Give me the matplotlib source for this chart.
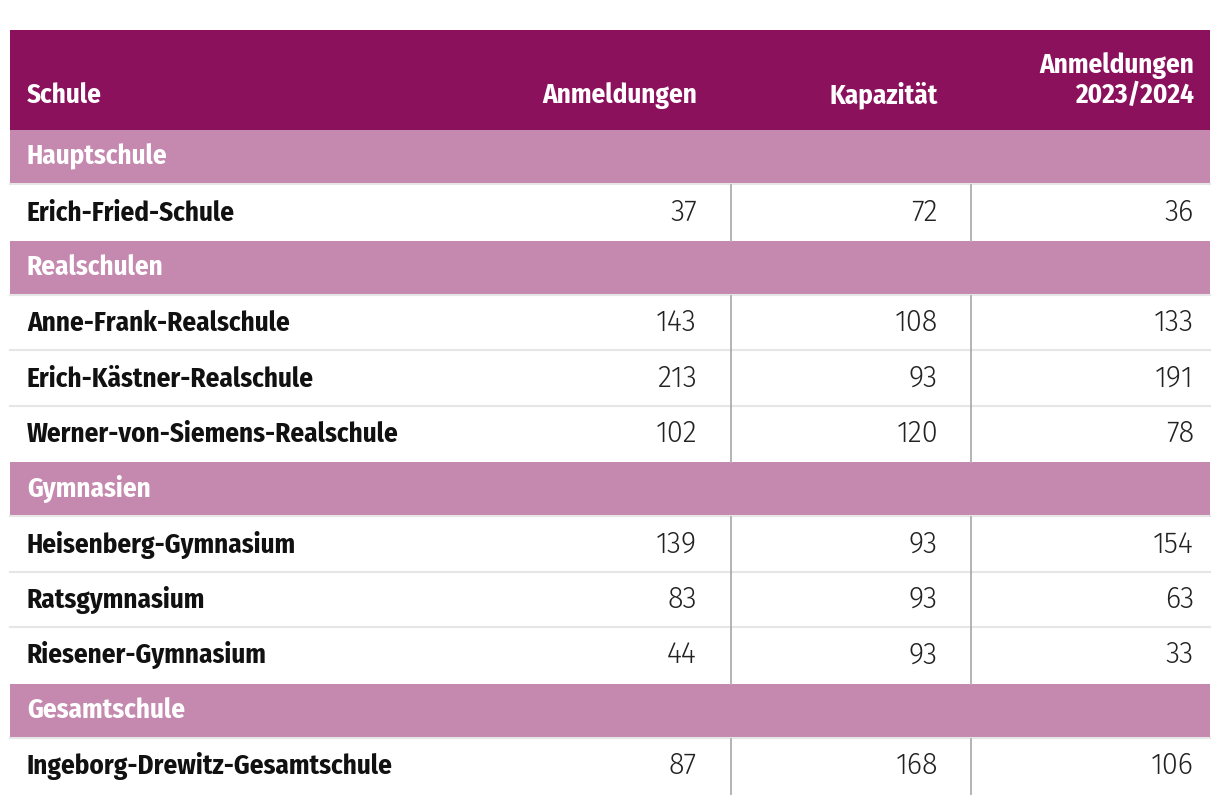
import matplotlib
matplotlib.use("Agg")
import matplotlib.pyplot as plt

# Tabellendaten
spalten = ["Schule", "Anmeldungen", "Kapazität", "Anmeldungen\n2023/2024"]
gruppen = ["Hauptschule", "Realschulen", "Gymnasien", "Gesamtschule"]
schulen = [
    ["Erich-Fried-Schule"],
    ["Anne-Frank-Realschule", "Erich-Kästner-Realschule", "Werner-von-Siemens-Realschule"],
    ["Heisenberg-Gymnasium", "Ratsgymnasium", "Riesener-Gymnasium"],
    ["Ingeborg-Drewitz-Gesamtschule"],
]
anmeldungen = [[37], [143, 213, 102], [139, 83, 44], [87]]
kapazitaet = [[72], [108, 93, 120], [93, 93, 93], [168]]
anmeldungen_vorjahr = [[36], [133, 191, 78], [154, 63, 33], [106]]

HEAD = "#8C115C"
BAND = "#C588AE"
SEP = "#E6E6E6"
VLINE = "#AEAEAE"
BOLD = ["Fira Sans Condensed", "DejaVu Sans"]
LIGHT = ["Fira Sans", "DejaVu Sans"]

fig = plt.figure(figsize=(12.2, 8.06), dpi=100)
ax = fig.add_axes([0, 0, 1, 1])
ax.set_xlim(0, 1220)
ax.set_ylim(806, 0)
ax.axis("off")

left, right = 10, 1210
head_top, head_bot = 30, 130
row_h = 55.35
col_right = [None, 697, 938, 1194]
vlines = [731, 971]
fs = 19.5      # fette Schrift
fs_num = 20.8  # Zahlen

# Kopfzeile
ax.add_patch(plt.Rectangle((left, head_top), right - left, head_bot - head_top, color=HEAD, lw=0))
ax.text(27, 103, spalten[0], color="white", fontsize=fs, fontweight="bold", family=BOLD, va="baseline")
for c in range(1, 4):
    lines = spalten[c].split("\n")
    for k, t in enumerate(lines):
        y = 103 - 30 * (len(lines) - 1 - k)
        ax.text(col_right[c], y, t, color="white", fontsize=fs, fontweight="bold",
                family=BOLD, va="baseline", ha="right")

# Zeilen
y = head_bot
for g in range(len(gruppen)):
    # Gruppenband
    ax.add_patch(plt.Rectangle((left, y), right - left, row_h - 2, color=BAND, lw=0))
    ax.plot([left, right], [y + row_h - 1, y + row_h - 1], color=SEP, lw=1.5)
    ax.text(27, y + row_h / 2 + 7, gruppen[g], color="white", fontsize=fs,
            fontweight="bold", family=BOLD, va="baseline")
    y += row_h
    for i, name in enumerate(schulen[g]):
        werte = [anmeldungen[g][i], kapazitaet[g][i], anmeldungen_vorjahr[g][i]]
        if i < len(schulen[g]) - 1:
            ax.plot([left, right], [y + row_h - 1, y + row_h - 1], color=SEP, lw=1.5)
        for xv in vlines:
            ax.plot([xv, xv], [y, y + row_h], color=VLINE, lw=1.3)
        ax.text(27, y + row_h / 2 + 7.5, name, color="#111111", fontsize=fs,
                fontweight="bold", family=BOLD, va="baseline")
        for c, v in enumerate(werte):
            ax.text(col_right[c + 1], y + row_h / 2 + 7.5, str(v), color="#222222",
                    fontsize=fs_num, fontweight=300, family=LIGHT, va="baseline", ha="right")
        y += row_h

fig.savefig("out.png", dpi=100)
